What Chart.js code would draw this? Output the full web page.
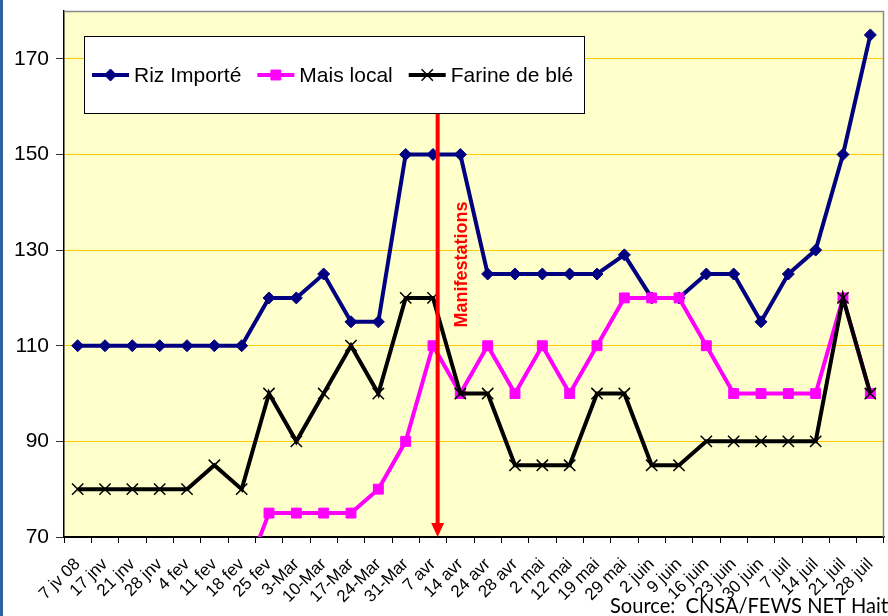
<!DOCTYPE html>
<html>
<head>
<meta charset="utf-8">
<script src="https://cdn.jsdelivr.net/npm/chart.js@4/dist/chart.umd.min.js"></script>
<style>
  html, body { margin: 0; padding: 0; background: #fff; }
  #wrap { position: relative; width: 888px; height: 616px; overflow: hidden; }
  canvas { display: block; }
</style>
</head>
<body>
<div id="wrap"><canvas id="c" width="888" height="616"></canvas></div>
<script>
// ---- data ----
const categories = ["7 jv 08","17 jnv","21 jnv","28 jnv","4 fev","11 fev","18 fev","25 fev","3-Mar","10-Mar","17-Mar","24-Mar","31-Mar","7 avr","14 avr","24 avr","28 avr","2 mai","12 mai","19 mai","29 mai","2 juin","9 juin","16 juin","23 juin","30 juin","7 juil","14 juil","21 juil","28 juil"];
const rizImporte = [110,110,110,110,110,110,110,120,120,125,115,115,150,150,150,125,125,125,125,125,129,120,120,125,125,115,125,130,150,175];
const maisLocal = [null,null,null,null,null,null,60,75,75,75,75,80,90,110,100,110,100,110,100,110,120,120,120,110,100,100,100,100,120,100];
const farineBle = [80,80,80,80,80,85,80,100,90,100,110,100,120,120,100,100,85,85,85,100,100,85,85,90,90,90,90,90,120,100];
const yTickValues = [70,90,110,130,150,170];
const yMin = 70, yMax = 180;
const seriesNames = ["Riz Importé","Mais local","Farine de blé"];
const annotationText = "Manifestations";
const annotationIndex = 13.17;   // position of the red arrow along category axis
const annotationLabelValue = 127; // vertical centre of the label (y value)
const sourceText = "Source:  CNSA/FEWS NET Haiti";

// ---- plugins ----
const bgPlugin = {
  id: 'bg',
  beforeDraw(chart) {
    const {ctx, chartArea: a} = chart;
    ctx.save();
    ctx.fillStyle = '#ffffff';
    ctx.fillRect(0, 0, chart.width, chart.height);
    ctx.fillStyle = '#FFFFCC';
    ctx.fillRect(a.left, a.top, a.right - a.left, a.bottom - a.top);
    ctx.fillStyle = '#2F63A0';
    ctx.fillRect(0, 0, 3, chart.height);
    ctx.restore();
  },
  beforeDatasetsDraw(chart) {
    const {ctx, chartArea: a} = chart;
    ctx.save();
    ctx.strokeStyle = '#8a8a8a';
    ctx.lineWidth = 1.5;
    ctx.beginPath();
    ctx.moveTo(a.left, a.top + 0.5);
    ctx.lineTo(a.right - 0.5, a.top + 0.5);
    ctx.lineTo(a.right - 0.5, a.bottom);
    ctx.stroke();
    ctx.restore();
  }
};

const overlayPlugin = {
  id: 'overlay',
  afterDatasetsDraw(chart) {
    const {ctx, chartArea: a, scales: {x, y}} = chart;
    const H = Chart.helpers;
    // legend box
    const bx = a.left + 20, by = a.top + 25, bw = 500, bh = 77;
    ctx.save();
    ctx.fillStyle = '#ffffff';
    ctx.fillRect(bx, by, bw, bh);
    ctx.strokeStyle = '#000';
    ctx.lineWidth = 1;
    ctx.strokeRect(bx + 0.5, by + 0.5, bw, bh);
    ctx.font = '21px "Liberation Sans", Arial, sans-serif';
    ctx.textBaseline = 'middle';
    ctx.textAlign = 'left';
    let cx = bx + 8;
    const cy = by + 39;
    chart.data.datasets.forEach((ds, i) => {
      ctx.strokeStyle = ds.borderColor;
      ctx.lineWidth = 4;
      ctx.beginPath();
      ctx.moveTo(cx, cy);
      ctx.lineTo(cx + 37, cy);
      ctx.stroke();
      ctx.fillStyle = ds.pointBackgroundColor;
      ctx.strokeStyle = ds.pointBorderColor;
      ctx.lineWidth = ds.pointBorderWidth;
      H.drawPoint(ctx, {pointStyle: ds.pointStyle, radius: ds.pointRadius, rotation: 0, borderWidth: ds.pointBorderWidth}, cx + 18.5, cy);
      ctx.fillStyle = '#000';
      ctx.fillText(ds.label, cx + 42, cy + 1);
      cx += 42 + ctx.measureText(ds.label).width + 16;
    });
    ctx.restore();

    // red arrow
    const ax = x.getPixelForValue(annotationIndex);
    const top = by + bh + 1;
    const bottom = y.getPixelForValue(yMin);
    ctx.save();
    ctx.strokeStyle = '#FF0000';
    ctx.fillStyle = '#FF0000';
    ctx.lineWidth = 4;
    ctx.beginPath();
    ctx.moveTo(ax, top);
    ctx.lineTo(ax, bottom - 12);
    ctx.stroke();
    ctx.beginPath();
    ctx.moveTo(ax - 6.5, bottom - 14);
    ctx.lineTo(ax + 6.5, bottom - 14);
    ctx.lineTo(ax, bottom);
    ctx.closePath();
    ctx.fill();
    // label
    ctx.translate(ax + 29, y.getPixelForValue(annotationLabelValue));
    ctx.rotate(-Math.PI / 2);
    ctx.font = 'bold 18px "Liberation Sans", Arial, sans-serif';
    ctx.textAlign = 'center';
    ctx.textBaseline = 'alphabetic';
    ctx.fillText(annotationText, 0, 0);
    ctx.restore();
  },
  afterDraw(chart) {
    const {ctx} = chart;
    ctx.save();
    ctx.fillStyle = '#000';
    ctx.font = '21px Lato, "Open Sans", sans-serif';
    ctx.textAlign = 'left';
    ctx.textBaseline = 'alphabetic';
    const target = 278; // width up to the final "t" in the reference
    const w = ctx.measureText(sourceText.slice(0, -1)).width;
    const sx = target / w;
    ctx.translate(610, 613);
    ctx.scale(sx, 1);
    ctx.fillText(sourceText, 0, 0);
    ctx.restore();
  }
};

function zeroPadding(scale) {
  scale.paddingLeft = 0; scale.paddingRight = 0; scale.paddingTop = 0; scale.paddingBottom = 0;
}

const ctx = document.getElementById('c').getContext('2d');
new Chart(ctx, {
  type: 'line',
  data: {
    labels: categories,
    datasets: [
      {
        label: seriesNames[0], data: rizImporte, order: 3,
        borderColor: '#000080', backgroundColor: '#000080', borderWidth: 4,
        pointStyle: 'rectRot', pointRadius: 6, pointBackgroundColor: '#000080',
        pointBorderColor: '#000080', pointBorderWidth: 1, tension: 0
      },
      {
        label: seriesNames[1], data: maisLocal, order: 2,
        borderColor: '#FF00FF', backgroundColor: '#FF00FF', borderWidth: 4,
        pointStyle: 'rect', pointRadius: 7, pointBackgroundColor: '#FF00FF',
        pointBorderColor: '#FF00FF', pointBorderWidth: 1, tension: 0
      },
      {
        label: seriesNames[2], data: farineBle, order: 1,
        borderColor: '#000000', backgroundColor: '#000000', borderWidth: 4,
        pointStyle: 'crossRot', pointRadius: 8, pointBackgroundColor: '#000000',
        pointBorderColor: '#000000', pointBorderWidth: 1.5, tension: 0
      }
    ]
  },
  options: {
    responsive: false,
    animation: false,
    devicePixelRatio: 1,
    layout: { autoPadding: false, padding: { top: 11, right: 4, left: 0, bottom: 0 } },
    plugins: { legend: { display: false }, tooltip: { enabled: false } },
    scales: {
      x: {
        type: 'category',
        offset: true,
        grid: { offset: true, drawOnChartArea: false, tickLength: 6, color: '#000', tickColor: '#000' },
        border: { display: true, color: '#000', width: 1.5 },
        ticks: {
          autoSkip: false, maxRotation: 45, minRotation: 45, padding: 18,
          color: '#000', font: { family: '"Liberation Sans", Arial, sans-serif', size: 17, lineHeight: 0.1 }
        },
        afterFit(scale) { scale.height = 79; zeroPadding(scale); }
      },
      y: {
        min: yMin, max: yMax,
        afterBuildTicks(scale) { scale.ticks = yTickValues.map(v => ({ value: v })); },
        grid: {
          color: (c) => (c.tick && c.tick.value === yMin) ? '#000' : '#FFCC00',
          tickColor: '#333', tickLength: 8, lineWidth: 1
        },
        border: { display: true, color: '#000', width: 1.5 },
        ticks: {
          padding: 7, color: '#000',
          font: { family: '"Liberation Sans", Arial, sans-serif', size: 21 }
        },
        afterFit(scale) { scale.width = 64; zeroPadding(scale); }
      }
    }
  },
  plugins: [bgPlugin, overlayPlugin]
});
</script>
</body>
</html>
